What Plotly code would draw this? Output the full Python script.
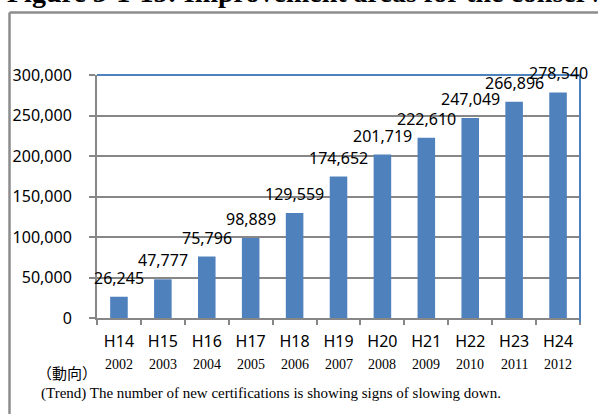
import plotly.graph_objects as go

heisei = ["H14", "H15", "H16", "H17", "H18", "H19", "H20", "H21", "H22", "H23", "H24"]
years = ["2002", "2003", "2004", "2005", "2006", "2007", "2008", "2009", "2010", "2011", "2012"]
values = [26245, 47777, 75796, 98889, 129559, 174652, 201719, 222610, 247049, 266896, 278540]
y_ticks = [0, 50000, 100000, 150000, 200000, 250000, 300000]

title_text = "Figure 3-1-15: Improvement areas for the conservation"
trend_jp = "（動向）"
caption = "(Trend) The number of new certifications is showing signs of slowing down."

SANS = "Noto Sans, sans-serif"
SERIF = "Liberation Serif, Times New Roman, serif"
BLUE = "#4F81BD"
GRAY = "#878787"

# plot area: x 97..580, y 75..318
L, R, T, B = 97, 18, 75, 96
W, H = 598 - L - R, 414 - T - B


def px(xp):
    return (xp - L) / W


def py(yp):
    return (T + H - yp) / H


fig = go.Figure()
fig.add_trace(go.Bar(x=heisei, y=values, marker=dict(color=BLUE, line=dict(width=0)),
                     hoverinfo="x+y"))

annotations = []
for h, v in zip(heisei, values):
    annotations.append(dict(x=h, y=v, xref="x", yref="y", text=f"{v:,}", showarrow=False,
                            yanchor="middle", yshift=19,
                            font=dict(family=SANS, size=16, color="#000")))
for h, yr in zip(heisei, years):
    annotations.append(dict(x=h, y=py(364), xref="x", yref="paper", text=yr, showarrow=False,
                            yanchor="middle", font=dict(family=SERIF, size=14, color="#000")))
annotations.append(dict(x=px(67), y=py(372), xref="paper", yref="paper", text=trend_jp,
                        showarrow=False, xanchor="center", yanchor="middle",
                        font=dict(family="Noto Sans CJK JP", size=15, color="#000")))
annotations.append(dict(x=px(39), y=py(393), xref="paper", yref="paper", text=caption,
                        showarrow=False, xanchor="left", yanchor="middle",
                        font=dict(family=SERIF, size=15, color="#000")))
annotations.append(dict(x=px(5), y=py(10.5), xref="paper", yref="paper", text="<b>" + title_text + "</b>",
                        showarrow=False, xanchor="left", yanchor="bottom",
                        font=dict(family=SERIF, size=28, color="#000")))

shapes = [
    # outer frame
    dict(type="line", xref="paper", yref="paper", x0=px(9.5), x1=px(700), y0=py(12.5), y1=py(12.5),
         line=dict(color="#8c8c8c", width=2.5)),
    dict(type="line", xref="paper", yref="paper", x0=px(9.5), x1=px(9.5), y0=py(12.5), y1=py(500),
         line=dict(color="#8c8c8c", width=2.5)),
    # blue plot border top and right
    dict(type="line", xref="paper", yref="paper", x0=0, x1=1, y0=1, y1=1,
         line=dict(color=BLUE, width=2)),
    dict(type="line", xref="paper", yref="paper", x0=1, x1=1, y0=py(322), y1=1,
         line=dict(color=BLUE, width=2)),
]

fig.update_layout(
    width=598, height=414,
    margin=dict(l=L, r=R, t=T, b=B, pad=0),
    paper_bgcolor="white", plot_bgcolor="white",
    showlegend=False,
    bargap=0.6,
    annotations=annotations,
    shapes=shapes,
    xaxis=dict(type="category", tickmode="array", tickvals=heisei, ticktext=heisei,
               tickson="boundaries", ticks="outside", ticklen=5, tickcolor=GRAY, tickwidth=2,
               showline=True, linecolor=GRAY, linewidth=2, showgrid=False,
               tickfont=dict(family=SANS, size=16, color="#000"), ticklabelstandoff=8,
               range=[-0.5, 10.5], fixedrange=True),
    yaxis=dict(range=[0, 300000], tickmode="array", tickvals=y_ticks,
               ticktext=[f"{t:,}" for t in y_ticks],
               ticks="outside", ticklen=6, tickcolor=GRAY, tickwidth=2,
               showline=True, linecolor=GRAY, linewidth=2,
               showgrid=True, gridcolor=GRAY, gridwidth=1.5, zeroline=False,
               tickfont=dict(family=SANS, size=16, color="#000"), ticklabelstandoff=14,
               fixedrange=True),
)

fig.write_html("out.html", config={"displayModeBar": False},
               post_script="document.body.style.margin='0';document.body.style.overflow='hidden';")
